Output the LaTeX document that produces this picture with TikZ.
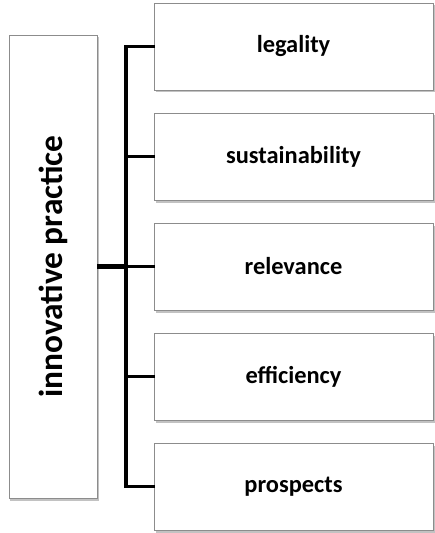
\documentclass[tikz,border=0pt]{standalone}
\usepackage{fontspec}
\setmainfont{Carlito}
\usetikzlibrary{shadows}
\tikzset{
	itembox/.style={draw=black!45, line width=0.8bp, fill=white, minimum width=279bp, minimum height=87bp, inner sep=0pt,
		drop shadow={shadow xshift=1.5bp, shadow yshift=-2.5bp, fill=black!40, opacity=0.6},
		font=\fontsize{24.5}{28}\selectfont\bfseries},
	mainbox/.style={itembox, minimum width=88bp, minimum height=463bp, font=\fontsize{33.5}{38}\selectfont\bfseries},
	branch/.style={line width=3.2bp, line join=miter, line cap=rect}
}

\begin{document}
\begin{tikzpicture}[x=1bp, y=-1bp]
		%%%%% START %%%%%
		\useasboundingbox (0, 0) rectangle (435, 533);
		
		\node[mainbox] (innov) at (53, 266.5) {\rotatebox{90}{innovative practice}};
		
		\node[itembox] (legality) at (293.5, 46.5) {legality};
		\node[itembox] (sustain) at (293.5, 156.5) {sustainability};
		\node[itembox] (relevance) at (293.5, 266.5) {relevance};
		\node[itembox] (efficiency) at (293.5, 376.5) {efficiency};
		\node[itembox] (prospects) at (293.5, 486.5) {prospects};
		
		\coordinate (bus) at (126, 266.5);
		
		\draw[branch] (legality.west) -- (legality.west -| bus) -- (prospects.west -| bus) -- (prospects.west);
		\draw[branch, line width=4.2bp, line cap=butt] (innov.east) -- (bus);
		\foreach \n in {sustain, relevance, efficiency}
			\draw[branch] (\n.west) -- (\n.west -| bus);
		
		%%%%% END %%%%%
	\end{tikzpicture}
\end{document}
